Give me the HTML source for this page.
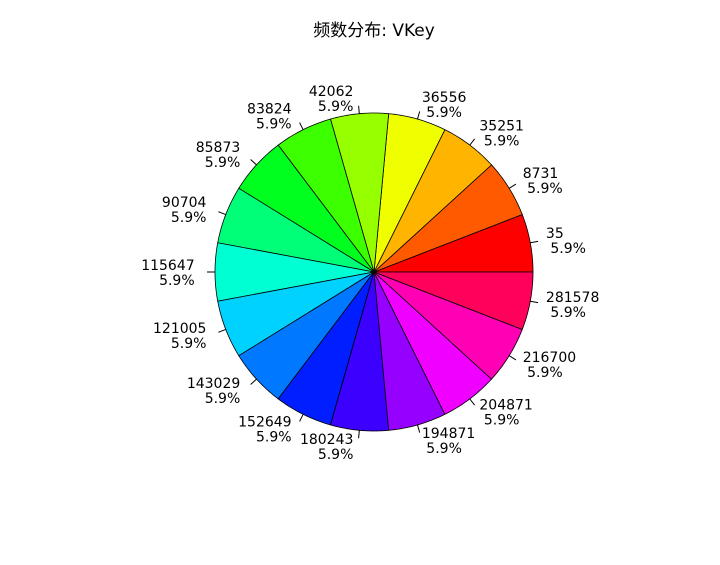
<!DOCTYPE html>
<html><head><meta charset="utf-8"><style>
body{margin:0;background:#fff;}
svg text{font-family:"DejaVu Sans","Noto Sans CJK SC",sans-serif;font-size:14px;fill:#000;white-space:pre;}
</style></head><body>
<svg id="chart" width="720" height="560" xmlns="http://www.w3.org/2000/svg">
<rect width="720" height="560" fill="#fff"/>
<text x="374" y="36" text-anchor="middle" style="font-size:17px">频数分布: VKey</text>
<g id="slices"></g><g id="labels"></g>
</svg>
<script>
const categories=["35","8731","35251","36556","42062","83824","85873","90704","115647","121005","143029","152649","180243","194871","204871","216700","281578"];
const counts=[1,1,1,1,1,1,1,1,1,1,1,1,1,1,1,1,1];
const cx=374,cy=272,R=159;
const total=counts.reduce((a,b)=>a+b,0);
const NS="http://www.w3.org/2000/svg";
const gs=document.getElementById('slices'),gl=document.getElementById('labels');
function hsv(h){const i=Math.floor(h*6),f=h*6-i,q=1-f;let r,g,b;
 [[1,f,0],[q,1,0],[0,1,f],[0,q,1],[f,0,1],[1,0,q]].forEach((c,k)=>{if(k===i%6)[r,g,b]=c;});
 return `rgb(${Math.round(r*255)},${Math.round(g*255)},${Math.round(b*255)})`;}
function pt(a,r){return [cx+r*Math.cos(a),cy-r*Math.sin(a)];}
let cum=0;
counts.forEach((v,i)=>{
 const a0=cum/total*2*Math.PI;cum+=v;const a1=cum/total*2*Math.PI;
 let d=`M${cx},${cy}`;
 for(let k=0;k<=20;k++){const p=pt(a0+(a1-a0)*k/20,R);d+=`L${p[0].toFixed(2)},${p[1].toFixed(2)}`;}
 d+='Z';
 const p=document.createElementNS(NS,'path');
 p.setAttribute('d',d);p.setAttribute('fill',hsv(i/counts.length));
 p.setAttribute('stroke','#000');p.setAttribute('stroke-width','0.8');
 
 
 gs.appendChild(p);
 const am=(a0+a1)/2;
 const t1=pt(am,R),t2=pt(am,R*1.05);
 const l=document.createElementNS(NS,'line');
 l.setAttribute('x1',t1[0]);l.setAttribute('y1',t1[1]);l.setAttribute('x2',t2[0]);l.setAttribute('y2',t2[1]);
 l.setAttribute('stroke','#000');
 
 
 gl.appendChild(l);
 const lp=pt(am,R*1.1);const right=Math.cos(am)>0;
 const pct=(v/total*100).toFixed(1)+'%';
 const t=document.createElementNS(NS,'text');
 t.setAttribute('text-anchor',right?'start':'end');
 
 
 const s1=document.createElementNS(NS,'tspan');s1.setAttribute('x',lp[0]);s1.setAttribute('y',lp[1]-2);
 s1.textContent=right?categories[i]:categories[i]+' ';
 const s2=document.createElementNS(NS,'tspan');s2.setAttribute('x',lp[0]);s2.setAttribute('y',lp[1]+13);
 s2.textContent=right?' '+pct:pct+' ';
 t.appendChild(s1);t.appendChild(s2);gl.appendChild(t);
});
</script>
</body></html>
